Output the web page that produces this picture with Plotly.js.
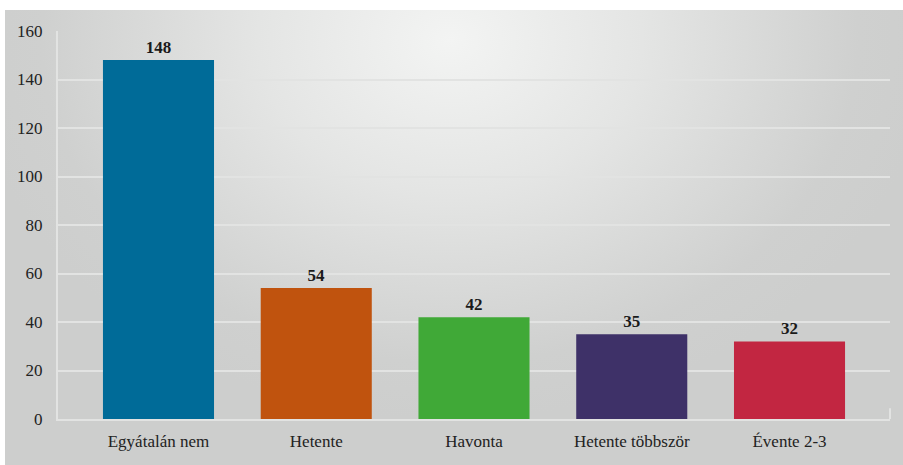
<!DOCTYPE html>
<html>
<head>
<meta charset="utf-8">
<script src="https://cdn.plot.ly/plotly-3.0.1.min.js"></script>
<style>
  html, body { margin: 0; padding: 0; background: #ffffff; width: 903px; height: 465px; overflow: hidden; }
  #chart {
    position: absolute; left: 5px; top: 10px; width: 898px; height: 455px;
    background: radial-gradient(ellipse 480px 380px at 445px 30px, #f3f4f3 0%, #e4e5e4 40%, #cfd0cf 85%, #cdcecd 100%);
  }
</style>
</head>
<body>
<div id="chart"></div>
<script>
const categories = ["Egyátalán nem", "Hetente", "Havonta", "Hetente többször", "Évente 2-3"];
const values = [148, 54, 42, 35, 32];
const colors = ["#006b98", "#c0530e", "#40a937", "#3e3168", "#c22641"];
const yTicks = [0, 20, 40, 60, 80, 100, 120, 140, 160];

const serif = "'Liberation Serif', 'DejaVu Serif', serif";

const trace = {
  type: "bar",
  x: categories,
  y: values,
  marker: { color: colors, line: { width: 0 } },
  width: 0.704,
  text: values.map(String),
  textposition: "outside",
  cliponaxis: false,
  textfont: { family: serif, size: 17, color: "#1a1a1a", weight: "bold" },
  texttemplate: "<b>%{text}</b>",
  hoverinfo: "x+y"
};

const layout = {
  width: 898,
  height: 455,
  margin: { l: 53, r: 13, t: 21, b: 46 },
  paper_bgcolor: "rgba(0,0,0,0)",
  plot_bgcolor: "rgba(0,0,0,0)",
  showlegend: false,
  font: { family: serif, size: 17, color: "#222222" },
  xaxis: {
    type: "category",
    range: [-0.637, 4.637],
    showgrid: false,
    showline: true,
    linecolor: "#e2e3e2",
    linewidth: 2,
    ticks: "",
    ticklabelstandoff: 6,
    tickfont: { family: serif, size: 17, color: "#222222" },
    fixedrange: true
  },
  yaxis: {
    range: [0, 160],
    tickvals: yTicks,
    ticktext: yTicks.map(String),
    showgrid: true,
    gridcolor: "#e2e3e2",
    gridwidth: 2,
    zeroline: false,
    showline: true,
    linecolor: "#e2e3e2",
    linewidth: 2,
    ticks: "",
    ticklabelstandoff: 10,
    tickfont: { family: serif, size: 17, color: "#222222" },
    fixedrange: true
  },
  shapes: [
    { type: "line", xref: "paper", yref: "paper", x0: 1, x1: 1, y0: 0, y1: 0.028,
      line: { color: "#e2e3e2", width: 2 } }
  ],
  bargap: 0.3
};

Plotly.newPlot("chart", [trace], layout, { displayModeBar: false, staticPlot: true });
</script>
</body>
</html>
